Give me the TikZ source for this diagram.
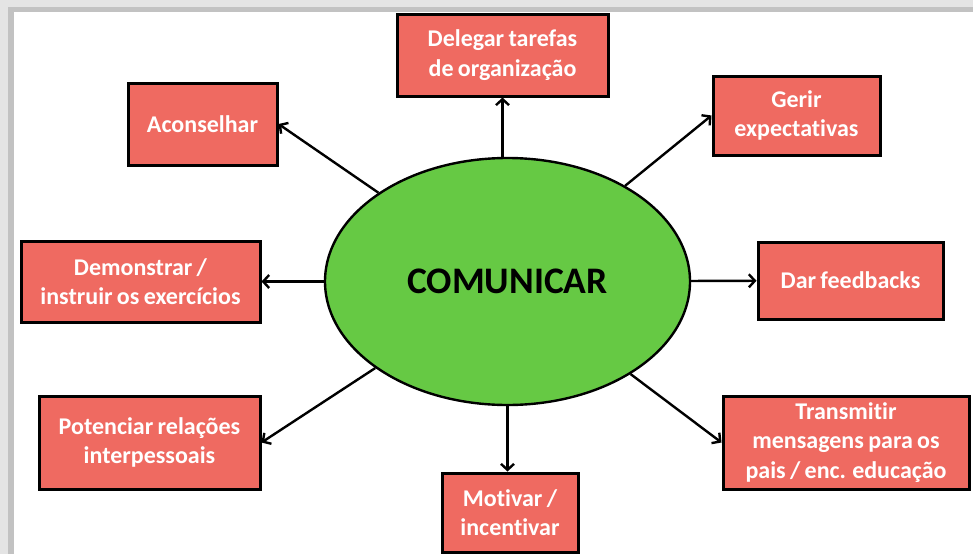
\documentclass[tikz,border=0pt]{standalone}
\usepackage{fontspec}
\setmainfont[Ligatures=NoCommon, WordSpace=0.8]{Carlito}
\usetikzlibrary{shapes.geometric,arrows.meta}
\definecolor{boxred}{HTML}{EF6A61}
\definecolor{ellgreen}{HTML}{66C944}
\definecolor{frameA}{HTML}{E4E4E4}
\definecolor{frameB}{HTML}{C2C2C2}
\tikzset{
  box/.style={draw=black, line width=3pt, fill=boxred, text=white, inner sep=0pt,
    align=center, font=\fontsize{24}{29.5}\selectfont\bfseries},
  conn/.style={line width=2.4pt, -{Straight Barb[length=6pt,width=13pt,line width=2.4pt]}},
}
\begin{document}
\begin{tikzpicture}[x=1pt,y=-1pt]
\useasboundingbox (0,0) rectangle (973,554);
\fill[frameA] (0,0) rectangle (973,554);
\fill[frameB] (8,7) rectangle (973,554);
\fill[white] (14,12) rectangle (973,554);

\node[ellipse, draw=black, line width=2.4pt, fill=ellgreen, minimum width=365pt, minimum height=247pt, inner sep=0pt,
  font=\fontsize{37.5}{40}\selectfont\bfseries] (ell) at (507.5,281.5) {COMUNICAR};

\node[box, minimum width=211pt, minimum height=82pt] (del) at (502.5,55) {Delegar tarefas\\de organização};
\node[box, minimum width=149pt, minimum height=82pt] (acon) at (202.5,124) {Aconselhar};
\node[box, minimum width=167pt, minimum height=79pt] (ger) at (796.5,115.5) {Gerir\\expectativas};
\node[box, minimum width=239pt, minimum height=81pt] (dem) at (140.5,281.5) {Demonstrar /\\instruir os exercícios};
\node[box, minimum width=185pt, minimum height=77pt] (dar) at (850.5,280.5) {Dar feedbacks};
\node[box, minimum width=221pt, minimum height=93pt] (pot) at (149.5,442.5) {Potenciar relações\\interpessoais};
\node[box, minimum width=246pt, minimum height=93pt] (tra) at (846,442.5) {Transmitir\\mensagens para os\\pais / enc. educação};
\node[box, minimum width=136pt, minimum height=79pt] (mot) at (510,512.5) {Motivar /\\incentivar};

\draw[conn] (del.south |- ell.north) -- (del.south);
\draw[conn] (ell) -- (acon.east);
\draw[conn] (ell) -- (ger.west);
\draw[conn] (ell) -- (dem);
\draw[conn] (ell) -- (dar);
\draw[conn] (ell) -- (pot.east);
\draw[conn] (ell) -- (tra.west);
\draw[conn] (ell.south) -- (ell.south |- mot.north);
\end{tikzpicture}
\end{document}
